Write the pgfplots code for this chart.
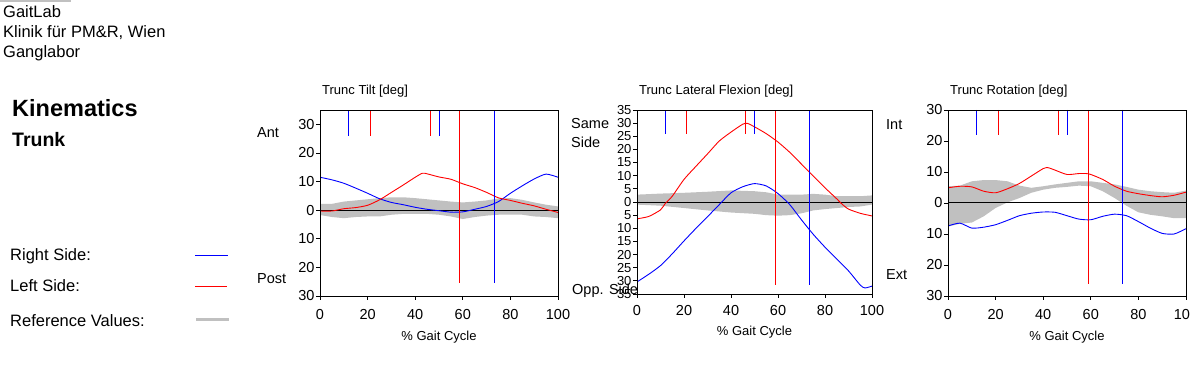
\documentclass[border=0pt]{standalone}
\usepackage{pgfplots}
\pgfplotsset{compat=1.18}
\usepackage{fontspec}
\setmainfont{Liberation Sans}
\definecolor{refgray}{RGB}{192,192,192}
\definecolor{rblue}{RGB}{0,0,255}
\definecolor{lred}{RGB}{255,0,0}
\newcommand{\tf}{\fontsize{13}{15}\selectfont}
\newcommand{\kf}{\fontsize{14.5}{16}\selectfont}
\pgfplotsset{
  gaitax/.style={
    scale only axis, anchor=south west,
    xmin=0, xmax=100, xtick={0,20,40,60,80,100},
    xticklabels={0,20,40,60,80,100},
    tick pos=left,
    major tick length=4pt, tick align=outside,
    tick style={black, line width=0.8pt},
    axis line style={black, line width=0.8pt},
    ticklabel style={font=\kf},
    xticklabel style={anchor=center, yshift=-15pt},
    yticklabel style={anchor=east, xshift=2pt},
    xlabel={\% Gait Cycle},
    xlabel style={font=\tf, at={(axis description cs:0.5,0)}, anchor=center, yshift=-41pt},
    title style={font=\tf, at={(axis description cs:0,1)}, anchor=south west, inner sep=0pt, yshift=7pt, xshift=2pt},
    clip=true,
    axis on top,
  },
  rs/.style={color=rblue, line width=0.9pt, smooth, tension=0.4},
  ls/.style={color=lred, line width=0.9pt, smooth, tension=0.4},
  ev/.style={line width=0.9pt},
}
\begin{document}
\begin{tikzpicture}[x=1pt,y=1pt]
\useasboundingbox (0,0) rectangle (1199,369);
\draw[refgray, line width=2pt] (0,368) -- (71,368);
\node[anchor=west, inner sep=0pt, font=\fontsize{16.5}{18}\selectfont] at (3,357) {GaitLab};
\node[anchor=west, inner sep=0pt, font=\fontsize{16.5}{18}\selectfont] at (3,336) {Klinik für PM\&R, Wien};
\node[anchor=west, inner sep=0pt, font=\fontsize{16.5}{18}\selectfont] at (3,316) {Ganglabor};
\node[anchor=west, inner sep=0pt, font=\fontsize{23.5}{26}\selectfont\bfseries] at (12,261) {Kinematics};
\node[anchor=west, inner sep=0pt, font=\fontsize{19.5}{22}\selectfont\bfseries] at (12,229) {Trunk};
\node[anchor=west, inner sep=0pt, font=\fontsize{16.5}{18}\selectfont] at (10,113) {Right Side:};
\node[anchor=west, inner sep=0pt, font=\fontsize{16.5}{18}\selectfont] at (10,83) {Left Side:};
\node[anchor=west, inner sep=0pt, font=\fontsize{16.5}{18}\selectfont] at (10,48) {Reference Values:};
\draw[rblue, line width=1pt] (195,113.5) -- (228,113.5);
\draw[lred, line width=1pt] (195,82.5) -- (227,82.5);
\draw[refgray, line width=3pt] (196,49.5) -- (229,49.5);
% side labels
\node[anchor=west, inner sep=0pt, font=\kf] at (257,236) {Ant};
\node[anchor=west, inner sep=0pt, font=\kf] at (257,90) {Post};
\node[anchor=west, inner sep=0pt, font=\kf] at (571,245) {Same};
\node[anchor=west, inner sep=0pt, font=\kf] at (571,227) {Side};
\node[anchor=west, inner sep=0pt, font=\kf] at (572,78) {Opp. Side};
\node[anchor=west, inner sep=0pt, font=\kf] at (886,244) {Int};
\node[anchor=west, inner sep=0pt, font=\kf] at (886,94) {Ext};

% ---------- Panel 1: Trunc Tilt ----------
\begin{axis}[gaitax, at={(320pt,73pt)}, width=238pt, height=186pt,
  ymin=-30, ymax=35, ytick={-30,-20,-10,0,10,20,30},
  yticklabels={30,20,10,0,10,20,30}, title={Trunc Tilt [deg]}]
\addplot[fill=refgray, draw=none] coordinates {
(0,2.2) (5,2.2) (10,3.0) (15,3.4) (20,3.8) (25,4.2) (30,4.5) (35,4.5) (40,4.2) (45,3.8) (50,3.4) (55,3.0) (60,2.7) (65,3.0) (70,3.4) (75,4.1) (80,4.2) (85,3.6) (90,2.7) (95,1.9) (100,1.3)
(100,-2.8) (95,-2.4) (90,-2.2) (85,-1.6) (80,-1.6) (75,-1.6) (70,-1.9) (65,-2.4) (60,-3.1) (55,-2.2) (50,-1.6) (45,-1.3) (40,-1.3) (35,-1.3) (30,-1.6) (25,-2.2) (20,-2.2) (15,-2.4) (10,-2.8) (5,-2.4) (0,-1.7)} -- cycle;
\addplot[black, line width=1pt] coordinates {(0,0) (100,0)};
\addplot[rs] coordinates {
(0,11.5) (5,10.6) (10,9.4) (15,7.7) (20,5.9) (25,4.0) (30,2.7) (35,1.9) (40,1.0) (45,0.3) (50,-0.2) (55,-0.7) (60,-0.6) (65,0.3) (70,1.3) (75,3.0) (80,5.9) (85,8.5) (90,10.9) (95,12.6) (100,11.5)};
\addplot[ls] coordinates {
(0,-0.3) (5,-0.3) (10,0.5) (15,0.9) (20,1.7) (25,3.6) (30,6.2) (35,8.8) (40,11.5) (43,12.9) (45,12.7) (50,11.6) (55,10.8) (60,9.2) (65,7.9) (70,6.2) (75,4.3) (80,3.4) (85,2.4) (90,1.5) (95,0.3) (100,-0.8)};
\addplot[ev, color=rblue] coordinates {(12,35) (12,26)};
\addplot[ev, color=lred] coordinates {(21,35) (21,26)};
\addplot[ev, color=lred] coordinates {(46.3,35) (46.3,26)};
\addplot[ev, color=rblue] coordinates {(50,35) (50,26)};
\addplot[ev, color=lred] coordinates {(58.8,35) (58.8,-25.5)};
\addplot[ev, color=rblue] coordinates {(73.3,35) (73.3,-25.5)};
\end{axis}

% ---------- Panel 2: Trunc Lateral Flexion ----------
\begin{axis}[gaitax, at={(637pt,75pt)}, width=235pt, height=184pt,
  ymin=-35, ymax=35, ytick={-35,-30,...,35},
  yticklabels={35,30,25,20,15,10,5,0,5,10,15,20,25,30,35},
  yticklabel style={font=\tf, xshift=0pt},
  title={Trunc Lateral Flexion [deg]},
  xlabel style={yshift=3pt}, xticklabel style={yshift=2pt}]
\addplot[fill=refgray, draw=none] coordinates {
(0,2.8) (10,3.2) (20,3.5) (30,3.9) (40,4.4) (50,4.1) (55,3.7) (60,2.8) (65,2.8) (70,2.8) (75,3.1) (80,2.8) (85,2.2) (90,2.2) (95,2.2) (100,2.5)
(100,-1.0) (95,-1.7) (90,-1.9) (85,-2.3) (80,-2.7) (75,-3.2) (70,-4.3) (65,-5.0) (60,-5.2) (55,-5.0) (50,-4.5) (40,-4.0) (30,-3.2) (20,-2.3) (10,-1.4) (0,-1.0)} -- cycle;
\addplot[black, line width=1pt] coordinates {(0,0) (100,0)};
\addplot[ls] coordinates {
(0,-6.4) (5,-5.5) (10,-3.0) (12,-0.6) (15,2.2) (20,8.6) (25,13.5) (30,18.3) (35,23.2) (40,26.6) (45,29.6) (47,29.9) (50,28.6) (55,26.0) (60,22.8) (65,18.9) (70,14.4) (75,9.9) (80,5.4) (85,1.2) (87,-0.6) (90,-2.7) (95,-4.3) (100,-5.3)};
\addplot[rs] coordinates {
(0,-30.4) (5,-27.5) (10,-24.2) (15,-19.7) (20,-14.8) (25,-10.1) (30,-5.6) (35,-1.0) (40,3.5) (45,5.8) (50,7.0) (55,6.1) (60,3.2) (65,-1.0) (70,-6.8) (75,-12.3) (80,-17.2) (85,-21.7) (90,-26.2) (95,-31.6) (97,-32.7) (100,-32.0)};
\addplot[ev, color=rblue] coordinates {(12,35) (12,25.7)};
\addplot[ev, color=lred] coordinates {(21,35) (21,25.7)};
\addplot[ev, color=lred] coordinates {(46.3,35) (46.3,25.7)};
\addplot[ev, color=rblue] coordinates {(50,35) (50,25.7)};
\addplot[ev, color=lred] coordinates {(58.8,35) (58.8,-31.4)};
\addplot[ev, color=rblue] coordinates {(73.3,35) (73.3,-31.4)};
\end{axis}

% ---------- Panel 3: Trunc Rotation ----------
\begin{scope}
\clip (0,0) rectangle (1189,369);
\begin{axis}[gaitax, at={(948pt,73pt)}, width=238pt, height=186pt,
  ymin=-30, ymax=30, ytick={-30,-20,-10,0,10,20,30},
  yticklabels={30,20,10,0,10,20,30}, title={Trunc Rotation [deg]}]
\addplot[fill=refgray, draw=none] coordinates {
(0,5.4) (5,5.6) (10,7.0) (15,7.4) (20,7.4) (25,7.0) (30,5.6) (35,4.9) (40,5.4) (45,6.0) (50,6.5) (55,7.0) (60,7.0) (65,6.5) (70,6.0) (75,5.2) (80,4.3) (85,3.8) (90,3.5) (95,3.3) (100,4.0)
(100,-4.9) (95,-4.9) (90,-4.3) (85,-3.8) (80,-3.0) (75,-0.9) (70,1.6) (65,3.8) (60,5.4) (55,5.6) (50,5.2) (45,4.9) (40,4.3) (35,3.3) (30,1.6) (25,0.2) (20,-1.6) (15,-4.3) (10,-6.3) (5,-6.7) (0,-7.6)} -- cycle;
\addplot[black, line width=1pt] coordinates {(0,0) (100,0)};
\addplot[ls] coordinates {
(0,4.9) (5,5.4) (10,5.2) (15,3.8) (20,3.3) (25,4.6) (30,6.3) (35,8.7) (40,11.1) (42,11.4) (45,10.6) (50,9.2) (55,9.5) (58,9.5) (60,9.2) (65,7.6) (70,5.4) (75,3.8) (80,3.0) (85,2.4) (90,2.0) (95,2.5) (100,3.5)};
\addplot[rs] coordinates {
(0,-7.4) (5,-6.5) (10,-8.1) (15,-7.8) (20,-7.0) (25,-5.6) (30,-4.1) (35,-3.3) (40,-2.9) (45,-3.0) (50,-4.1) (55,-5.2) (60,-5.4) (65,-4.3) (70,-3.6) (75,-4.1) (80,-6.0) (85,-8.1) (90,-9.8) (95,-10.0) (100,-8.3)};
\addplot[ev, color=rblue] coordinates {(12,30) (12,22)};
\addplot[ev, color=lred] coordinates {(21,30) (21,22)};
\addplot[ev, color=lred] coordinates {(46.3,30) (46.3,22)};
\addplot[ev, color=rblue] coordinates {(50,30) (50,22)};
\addplot[ev, color=lred] coordinates {(58.8,30) (58.8,-26)};
\addplot[ev, color=rblue] coordinates {(73.3,30) (73.3,-26)};
\end{axis}
\end{scope}
\end{tikzpicture}
\end{document}
